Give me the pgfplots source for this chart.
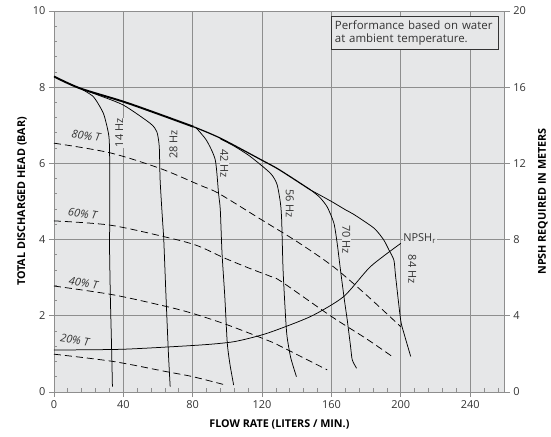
\documentclass[border=0pt]{standalone}
\usepackage{fontspec}
\setmainfont{Open Sans}
\usepackage{pgfplots}
\pgfplotsset{compat=1.18}
\usetikzlibrary{calc}
\definecolor{bg}{HTML}{E6E7E8}
\definecolor{gridc}{HTML}{8E8E8E}
\definecolor{txt}{HTML}{333333}

\pgfplotsset{
  base/.style={scale only axis, width=451bp, height=381bp, xmin=0, xmax=260},
  thin/.style={black, line width=0.75bp, smooth, tension=0.4, mark=none},
  tq/.style={black, line width=0.75bp, dash pattern=on 7bp off 4bp, smooth, mark=none},
}
\tikzset{
  lbl/.style={font=\fontsize{11}{12}\selectfont, text=txt, fill=bg, inner sep=0.6bp},
  pct/.style={font=\fontsize{11}{12}\selectfont\itshape, text=txt, inner sep=0.6bp, rotate=-9},
  axlbl/.style={font=\fontsize{10.8}{12}\selectfont\bfseries, text=black},
}

\begin{document}
\begin{tikzpicture}
\begin{axis}[name=ax, base,
  ymin=0, ymax=10,
  axis background/.style={fill=bg},
  axis line style={gridc, line width=0.8bp},
  xtick={0,40,...,240}, ytick={0,2,...,10},
  xtick pos=bottom, ytick pos=left,
  tick align=outside, major tick length=5bp,
  tick style={gridc, line width=0.8bp},
  grid=major, major grid style={gridc, line width=0.8bp},
  tick label style={font=\fontsize{11}{12}\selectfont, text=txt},
  /pgf/number format/assume math mode=true,
  extra x ticks={8,16,24,32,48,56,64,72,88,96,104,112,128,136,144,152,168,176,184,192,208,216,224,232,248,256},
  extra x tick labels={},
  extra x tick style={tick align=inside, major tick length=3.5bp, grid=none},
  extra y ticks={0.4,0.8,1.2,1.6,2.4,2.8,3.2,3.6,4.4,4.8,5.2,5.6,6.4,6.8,7.2,7.6,8.4,8.8,9.2,9.6},
  extra y tick labels={},
  extra y tick style={tick align=inside, major tick length=3.5bp, grid=none},
]
% torque lines
\addplot[tq] coordinates {(0,6.53) (32,6.28) (61,5.87) (84,5.43) (95,5.21) (120,4.51) (140,3.95) (161,3.29) (180,2.55) (200,1.71)};
\addplot[tq] coordinates {(0,4.49) (32,4.38) (63,4.08) (82,3.85) (98,3.52) (113,3.24) (125,3.03) (131,2.9) (160,1.98) (180,1.4) (195,0.93)};
\addplot[tq] coordinates {(0,2.78) (34,2.55) (65,2.24) (80,2.06) (100,1.76) (125,1.32) (131,1.19) (157.5,0.58)};
\addplot[tq] coordinates {(0,0.99) (34,0.8) (65,0.53) (80,0.4) (99,0.18)};
% speed curves
\addplot[thin] coordinates {(15,7.97) (22.7,7.75) (28.5,7.31) (31.4,6.79) (32,6.44) (32.2,5.5) (32.2,4.45) (32,3.9) (32.5,2.5) (33.2,1.2) (33.7,0.14)};
\addplot[thin] coordinates {(15,7.97) (25,7.8) (40,7.53) (55.5,7.05) (59.3,6.83) (60.7,6.44) (61.2,5.56) (62.6,4.5) (63.3,4.0) (64.6,2.5) (66,1.0) (67,0.14)};
\addplot[thin] coordinates {(82,6.93) (88,6.6) (93,6.09) (94.9,5.21) (95.9,4.78) (96.9,3.64) (98.5,2.5) (99.8,1.36) (100.6,1.0) (101.7,0.66) (103.6,0.18)};
\addplot[thin] coordinates {(96,6.64) (104,6.45) (113.2,6.18) (124.8,5.74) (128.6,5.45) (130.6,4.95) (131.3,4.5) (132.1,3.2) (133.5,2.0) (134.4,1.45) (136.5,0.9) (139.8,0.4)};
\addplot[thin] coordinates {(148,5.3) (153,5.12) (157.5,4.86) (161.4,4.43) (163.3,3.9) (165.2,3.2) (167.5,2.4) (169.1,1.89) (171,1.2) (172,0.84) (174.5,0.62)};
\addplot[thin] coordinates {(148,5.3) (160,5.0) (168.1,4.78) (172.9,4.66) (184.5,4.3) (190,4.0) (193.1,3.73) (196,3.46) (197,3.03) (199.9,1.89) (201.8,1.54) (205.7,0.93)};
% envelope (overlapping curves)
\addplot[black, line width=1.2bp, smooth, mark=none] coordinates {(80.5,6.96) (96,6.66) (120,6.08) (130,5.83) (148,5.3)};
\addplot[black, line width=1.9bp, smooth, mark=none] coordinates {(0,8.28) (15,7.97) (40,7.62) (60,7.3) (80.5,6.96)};
% labels
\node[pct] at (axis cs:18.5,6.73) {80\% T};
\node[pct] at (axis cs:16.5,4.68) {60\% T};
\node[pct] at (axis cs:17,2.85) {40\% T};
\node[pct] at (axis cs:12,1.36) {20\% T};
\node[lbl, rotate=90] at (axis cs:37.6,6.8) {14 Hz};
\node[lbl, rotate=90] at (axis cs:68.9,6.5) {28 Hz};
\node[lbl, rotate=-90] at (axis cs:98.3,6.0) {42 Hz};
\node[lbl, rotate=-90] at (axis cs:136,4.95) {56 Hz};
\node[lbl, rotate=-90] at (axis cs:168.5,4.0) {70 Hz};
\node[lbl, rotate=-90] at (axis cs:206.6,3.22) {84 Hz};
\node[lbl, anchor=west] at (axis cs:201,4.02) {NPSH\textsubscript{r}};
\node[draw=txt, line width=0.9bp, fill=bg, anchor=north west, align=left,
  text width=161bp, inner xsep=3bp, inner ysep=4bp, font=\fontsize{11.5}{13.5}\selectfont, text=txt]
  at (axis cs:160,9.87) {Performance based on water\\at ambient temperature.};
\end{axis}
% right axis: NPSH
\begin{axis}[base, ymin=0, ymax=20,
  axis x line=none, axis y line*=right,
  axis line style={gridc, line width=0.8bp},
  ytick={0,4,...,20}, tick align=outside, major tick length=5bp,
  tick style={gridc, line width=0.8bp},
  tick label style={font=\fontsize{11}{12}\selectfont, text=txt},
  /pgf/number format/assume math mode=true,
]
\addplot[thin] coordinates {(0,2.2) (40,2.24) (84,2.46) (104,2.64) (123,3.08) (148,3.96) (167,5.0) (182.5,6.58) (200,7.8)};
\end{axis}
\node[axlbl, rotate=90] at ($($(ax.south west)!0.5!(ax.north west)$)+(-32bp,0)$) {TOTAL DISCHARGED HEAD (BAR)};
\node[axlbl, rotate=90] at ($($(ax.south east)!0.5!(ax.north east)$)+(38bp,0)$) {NPSH REQUIRED IN METERS};
\node[axlbl] at ($($(ax.south west)!0.5!(ax.south east)$)+(0,-33bp)$) {FLOW RATE (LITERS / MIN.)};
\path[use as bounding box] ($(ax.south west)+(-54bp,-45bp)$) rectangle ($(ax.north east)+(46bp,11bp)$);
\end{tikzpicture}
\end{document}
